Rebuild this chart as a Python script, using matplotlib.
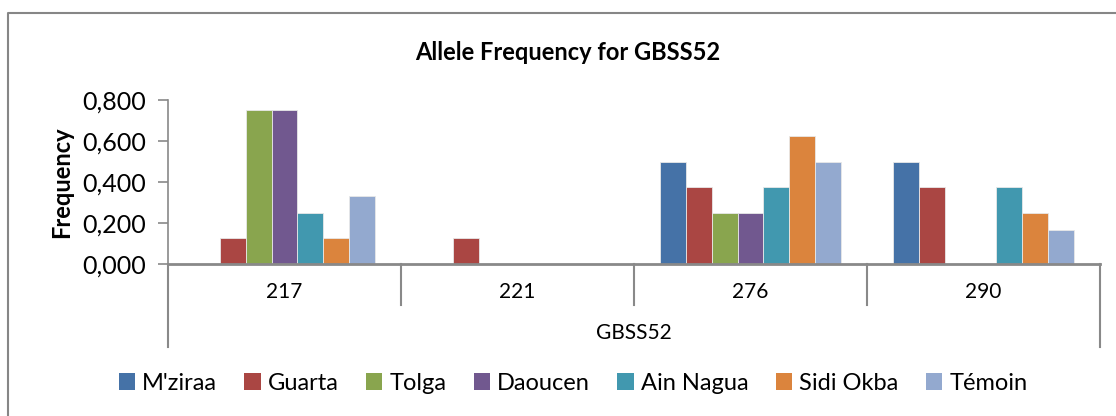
import numpy as np
import matplotlib.pyplot as plt
from matplotlib.patches import Patch
from matplotlib.lines import Line2D
import matplotlib.transforms as mtransforms

plt.rcParams['font.family'] = ['Lato', 'DejaVu Sans']

# data
alleles = ['217', '221', '276', '290']
series = ["M'ziraa", 'Guarta', 'Tolga', 'Daoucen', 'Ain Nagua', 'Sidi Okba', 'Témoin']
mziraa = [0.0, 0.0, 0.5, 0.5]
guarta = [0.125, 0.125, 0.375, 0.375]
tolga = [0.75, 0.0, 0.25, 0.0]
daoucen = [0.75, 0.0, 0.25, 0.0]
ain_nagua = [0.25, 0.0, 0.375, 0.375]
sidi_okba = [0.125, 0.0, 0.625, 0.25]
temoin = [0.333, 0.0, 0.5, 0.167]
yticks = [0.0, 0.2, 0.4, 0.6, 0.8]
ytick_labels = ['0,000', '0,200', '0,400', '0,600', '0,800']

values = [mziraa, guarta, tolga, daoucen, ain_nagua, sidi_okba, temoin]
colors = ['#4572A7', '#AA4643', '#89A54E', '#71588F', '#4198AF', '#DB843D', '#93A9CF']
grey = '#898989'

fig = plt.figure(figsize=(11.16, 4.16), dpi=100)
ax = fig.add_axes([168/1116, 152/416, 932/1116, 164/416])

x = np.arange(len(alleles))
w = 1/9
for i, (name, vals) in enumerate(zip(series, values)):
    ax.bar(x + (i-3)*w, vals, width=w, color=colors[i], edgecolor='#e8e8e8', linewidth=0.6, label=name)

ax.set_xlim(-0.5, 3.5)
ax.set_ylim(0, 0.8)
ax.set_yticks(yticks)
ax.set_yticklabels(ytick_labels, fontsize=18)
ax.tick_params(axis='y', direction='out', length=7, color=grey, width=1.2, pad=9)
ax.set_xticks([])
for s in ['top', 'right', 'bottom']:
    ax.spines[s].set_visible(False)
ax.spines['left'].set_color(grey)
ax.spines['left'].set_linewidth(1.2)

# category axis with divider lines
trans = mtransforms.blended_transform_factory(ax.transData, ax.transAxes)
ax.plot([-0.5, 3.5], [0, 0], color=grey, lw=2, transform=trans, clip_on=False)
for d in [0.5, 1.5, 2.5]:
    ax.plot([d, d], [0, -0.25], color=grey, lw=1.5, transform=trans, clip_on=False)
for d in [-0.5, 3.5]:
    ax.plot([d, d], [0, -0.506], color=grey, lw=1.5, transform=trans, clip_on=False)
for xi, lab in zip(x, alleles):
    ax.text(xi, -0.171, lab, transform=trans, ha='center', va='center', fontsize=15)
ax.text(0.5, -0.42, 'GBSS52', transform=ax.transAxes, ha='center', va='center', fontsize=15)

ax.set_ylabel('Frequency', fontsize=17, fontweight='bold', labelpad=6)
fig.text(568/1116, 1 - 52/416, 'Allele Frequency for GBSS52', ha='center', va='center',
         fontsize=17, fontweight='bold')

handles = [Patch(facecolor=c, edgecolor='none') for c in colors]
fig.legend(handles, series, loc='center', bbox_to_anchor=(573/1116, 1 - 383/416), ncol=7,
           frameon=False, fontsize=17, handlelength=0.7, handleheight=0.7,
           handletextpad=0.3, columnspacing=1.15)

# outer chart frame (only left and top edges are inside the picture)
fx, fy = 8/1116, 1 - 13/416
fig.lines.append(Line2D([fx, fx, 1], [0, fy, fy], transform=fig.transFigure,
                        color='#868686', lw=1.5))

fig.savefig('out.png', dpi=100)
